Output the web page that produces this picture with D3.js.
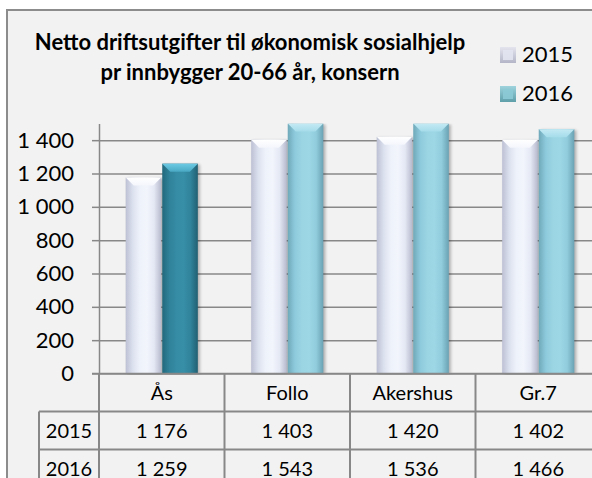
<!DOCTYPE html>
<html>
<head>
<meta charset="utf-8">
<script src="https://cdn.jsdelivr.net/npm/d3@7"></script>
<style>
  body { margin: 0; background: #fff; }
  text { font-family: Lato, "Open Sans", sans-serif; fill: #000; }
</style>
</head>
<body>
<div id="chart"></div>
<script>
var categories = ["Ås", "Follo", "Akershus", "Gr.7"];
var series = ["2015", "2016"];
var values2015 = [1176, 1403, 1420, 1402];
var values2016 = [1259, 1543, 1536, 1466];
var yTicks = [0, 200, 400, 600, 800, 1000, 1200, 1400];
var yMax = 1500;
var title = ["Netto driftsutgifter til økonomisk sosialhjelp", "pr innbygger 20-66 år, konsern"];

var width = 592, height = 478;
var plotLeft = 99, plotRight = 601, plotTop = 123.5, plotBottom = 373.5;
var rowH = 38;
var gridColor = "#888";

var fmt = d3.formatLocale({decimal: ",", thousands: " ", grouping: [3], currency: ["", ""]}).format(",d");

var svg = d3.select("#chart").append("svg")
    .attr("width", width)
    .attr("height", height);

var defs = svg.append("defs");

function hGrad(id, stops) {
  var g = defs.append("linearGradient").attr("id", id)
      .attr("x1", "0%").attr("x2", "100%").attr("y1", "0%").attr("y2", "0%");
  stops.forEach(function(c, i) {
    g.append("stop").attr("offset", (i / (stops.length - 1) * 100) + "%").attr("stop-color", c);
  });
}
function vGrad(id, stops) {
  var g = defs.append("linearGradient").attr("id", id)
      .attr("x1", "0%").attr("x2", "0%").attr("y1", "0%").attr("y2", "100%");
  stops.forEach(function(c, i) {
    g.append("stop").attr("offset", (i / (stops.length - 1) * 100) + "%").attr("stop-color", c);
  });
}

hGrad("b2015", ["#BCC0D3", "#DCE1EF", "#EEF2FA", "#F2F5FC", "#E4E8F4", "#B5B9CC"]);
hGrad("b2016", ["#6FA9BA", "#8DCADB", "#9BD5E4", "#9DD7E6", "#90CCDC", "#6AA2B3"]);
hGrad("b2016d", ["#22687C", "#2F8299", "#368CA5", "#378EA7", "#30839A", "#215F72"]);
vGrad("t2015", ["#FFFFFF", "#F4F6FC"]);
vGrad("t2016", ["#C3EAF4", "#A6DCEA"]);
vGrad("t2016d", ["#6CCAE4", "#4AA9C4"]);
vGrad("l2015", ["#E4E4EE", "#B4B6C8"]);
vGrad("l2016", ["#9ED3DC", "#5E9FAA"]);

var blur = defs.append("filter").attr("id", "shadow")
    .attr("x", "-20%").attr("y", "-5%").attr("width", "140%").attr("height", "110%");
blur.append("feGaussianBlur").attr("stdDeviation", 1.4);

defs.append("clipPath").attr("id", "plotclip")
  .append("rect")
    .attr("x", plotLeft).attr("y", plotTop)
    .attr("width", plotRight - plotLeft).attr("height", plotBottom - plotTop + 1);

// chart area
svg.append("rect")
    .attr("x", 7).attr("y", 10)
    .attr("width", 620).attr("height", 520)
    .attr("fill", "#F2F2F2")
    .attr("stroke", "#8C8C8C")
    .attr("stroke-width", 2);

// title
svg.append("text")
    .attr("x", 250)
    .attr("y", 50)
    .attr("text-anchor", "middle")
    .attr("font-weight", "bold")
    .attr("font-size", "22px")
  .selectAll("tspan")
  .data(title)
  .enter().append("tspan")
    .attr("x", 250)
    .attr("dy", function(d, i) { return i ? 30 : 0; })
    .text(function(d) { return d; });

// scales
var x = d3.scaleBand().domain(categories).range([plotLeft, plotRight]);
var x1 = d3.scaleBand().domain(series).range([0, x.bandwidth()]).paddingOuter(0.716);
var y = d3.scaleLinear().domain([0, yMax]).range([plotBottom, plotTop]);

// gridlines
svg.append("g")
    .attr("transform", "translate(" + plotLeft + ",0)")
    .call(d3.axisLeft(y).tickValues(yTicks).tickSize(-(plotRight - plotLeft)).tickFormat(""))
    .call(function(g) { g.select(".domain").remove(); })
    .selectAll("line")
    .attr("stroke", gridColor)
    .attr("stroke-width", 1.5);

// y axis
var yAxis = svg.append("g")
    .attr("transform", "translate(" + plotLeft + ",0)")
    .call(d3.axisLeft(y).tickValues(yTicks).tickSize(7).tickSizeOuter(0).tickPadding(18).tickFormat(fmt));
yAxis.select(".domain").attr("stroke", gridColor).attr("stroke-width", 1.5);
yAxis.selectAll(".tick line").attr("stroke", gridColor).attr("stroke-width", 1.5);
yAxis.selectAll(".tick text")
    .attr("font-size", "22px")
    .attr("font-family", "Lato")
    .attr("fill", "#000");

// bars
var rows = categories.map(function(c, i) {
  return {cat: c, vals: [{s: "2015", v: values2015[i]}, {s: "2016", v: values2016[i]}]};
});

var bars = svg.append("g").attr("clip-path", "url(#plotclip)");

var groups = bars.selectAll(".cat")
    .data(rows)
    .enter().append("g")
    .attr("class", "cat")
    .attr("transform", function(d) { return "translate(" + x(d.cat) + ",0)"; });

var bar = groups.selectAll(".bar")
    .data(function(d) {
      return d.vals.map(function(e) { return {cat: d.cat, s: e.s, v: e.v}; });
    })
    .enter().append("g")
    .attr("class", "bar");

function key(d) {
  if (d.s === "2015") return "2015";
  return d.cat === "Ås" ? "2016d" : "2016";
}

bar.each(function(d) {
  var gEl = d3.select(this);
  var bx = x1(d.s) + 0.5;
  var bw = x1.bandwidth() - 1;
  var top = y(Math.min(d.v, yMax));
  var bh = plotBottom - top;
  var bev = 8;
  var k = key(d);

  gEl.append("rect")
      .attr("x", bx + 2).attr("y", top + 1)
      .attr("width", bw).attr("height", bh)
      .attr("fill", "#000").attr("opacity", 0.28)
      .attr("filter", "url(#shadow)");

  gEl.append("rect")
      .attr("x", bx).attr("y", top)
      .attr("width", bw).attr("height", bh)
      .attr("fill", "url(#b" + k + ")");

  gEl.append("path")
      .attr("d", "M" + bx + "," + top +
                 "L" + (bx + bw) + "," + top +
                 "L" + (bx + bw - bev) + "," + (top + bev) +
                 "L" + (bx + bev) + "," + (top + bev) + "Z")
      .attr("fill", "url(#t" + k + ")");
});

// table
var table = svg.append("g");
var tRight = 640;
var tLeft = 39;
var rowTop = plotBottom;

[rowTop + rowH, rowTop + rowH * 2, rowTop + rowH * 3].forEach(function(ty) {
  table.append("line")
      .attr("x1", tLeft).attr("x2", tRight)
      .attr("y1", ty).attr("y2", ty)
      .attr("stroke", gridColor).attr("stroke-width", 2);
});
categories.forEach(function(c) {
  table.append("line")
      .attr("x1", x(c)).attr("x2", x(c))
      .attr("y1", rowTop).attr("y2", rowTop + rowH * 3)
      .attr("stroke", gridColor).attr("stroke-width", 2);
});
table.append("line")
    .attr("x1", plotRight).attr("x2", plotRight)
    .attr("y1", rowTop).attr("y2", rowTop + rowH * 3)
    .attr("stroke", gridColor).attr("stroke-width", 2);
table.append("line")
    .attr("x1", tLeft).attr("x2", tLeft)
    .attr("y1", rowTop + rowH).attr("y2", rowTop + rowH * 3)
    .attr("stroke", gridColor).attr("stroke-width", 2);
table.append("line")
    .attr("x1", plotLeft - 7).attr("x2", plotRight)
    .attr("y1", rowTop).attr("y2", rowTop)
    .attr("stroke", gridColor).attr("stroke-width", 1.5);

table.selectAll(".catlabel")
    .data(categories)
    .enter().append("text")
    .attr("x", function(d) { return x(d) + x.bandwidth() / 2; })
    .attr("y", rowTop + 26)
    .attr("text-anchor", "middle")
    .attr("font-size", "20px")
    .text(function(d) { return d; });

[values2015, values2016].forEach(function(vals, r) {
  var ty = rowTop + rowH * (r + 1) + 26;
  table.append("text")
      .attr("x", (tLeft + plotLeft) / 2)
      .attr("y", ty)
      .attr("text-anchor", "middle")
      .attr("font-size", "20px")
      .text(series[r]);
  table.selectAll(".v" + r)
      .data(vals)
      .enter().append("text")
      .attr("x", function(d, i) { return x(categories[i]) + x.bandwidth() / 2; })
      .attr("y", ty)
      .attr("text-anchor", "middle")
      .attr("font-size", "20px")
      .text(function(d) { return fmt(d); });
});

// legend
var legend = svg.append("g");
series.forEach(function(s, i) {
  var ly = 47 + i * 39;
  legend.append("rect")
      .attr("x", 500).attr("y", ly)
      .attr("width", 16).attr("height", 16)
      .attr("fill", "url(#l" + s + ")");
  legend.append("rect")
      .attr("x", 503).attr("y", ly + 3)
      .attr("width", 10).attr("height", 10)
      .attr("fill", i ? "#8CCAD6" : "#E2E4EF")
      .attr("opacity", 0.9);
  legend.append("text")
      .attr("x", 522)
      .attr("y", ly + 15)
      .attr("font-size", "22px")
      .text(s);
});
</script>
</body>
</html>
